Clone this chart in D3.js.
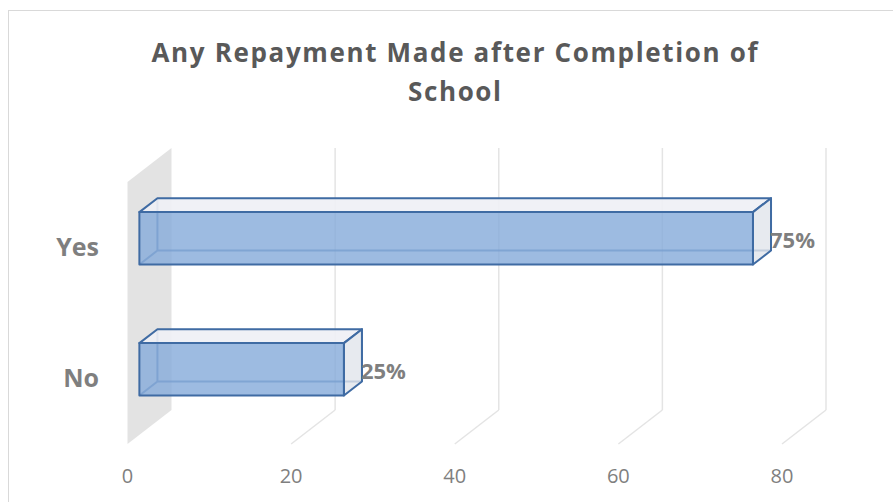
<!DOCTYPE html>
<html>
<head>
<meta charset="UTF-8">
<title>Any Repayment Made after Completion of School</title>
<style>
  body { margin: 0; background: #fff; }
  svg { display: block; font-family: "Open Sans", Lato, sans-serif; }
  .grid line { stroke: #e4e4e4; stroke-width: 1.5px; fill: none; }
  .bar path { stroke: #3f6ba3; stroke-width: 2px; stroke-linejoin: round; }
</style>
</head>
<body>
<svg id="chart"></svg>
<script src="https://d3js.org/d3.v7.min.js"></script>
<script>

var categories = ["Yes", "No"];
var values = [75, 25];
var valueLabels = ["75%", "25%"];
var tickValues = [0, 20, 40, 60, 80];
var titleLines = ["Any Repayment Made after Completion of", "School"];

var width = 893, height = 502;

// front plane of the plot box, and how far the back plane is shifted
var plot = { left: 127.5, right: 782, top: 182, bottom: 444 };
var depth = { dx: 44, dy: -34 };
var barFront = 0.27, barBack = 0.68;

var x = d3.scaleLinear().domain([0, 80]).range([plot.left, plot.right]);
var y = d3.scaleBand().domain(categories).range([plot.top, plot.bottom]).paddingInner(0.6).paddingOuter(0.3);

// project a point (value, plane y, depth 0..1) to the screen
function pt(v, py, d) {
  return [x(v) + d * depth.dx, py + d * depth.dy];
}

var svg = d3.select('#chart')
  .attr('width', width)
  .attr('height', height);

// chart border
svg.append('rect')
  .attr('x', 8.5).attr('y', 10.5)
  .attr('width', 900).attr('height', 520)
  .attr('fill', 'none')
  .attr('stroke', '#d9d9d9');

// title
svg.append('g').selectAll('text')
  .data(titleLines)
  .enter().append('text')
  .attr('x', 454.5)
  .attr('y', function (d, i) { return 62 + i * 39; })
  .attr('text-anchor', 'middle')
  .attr('font-size', '26px')
  .attr('font-weight', 'bold')
  .attr('fill', '#595959')
  .attr('textLength', function (d, i) { return i === 0 ? 606 : 93; })
  .attr('lengthAdjust', 'spacing')
  .text(function (d) { return d; });

// side wall at value 0
var wall = [pt(0, plot.top, 0), pt(0, plot.top, 1), pt(0, plot.bottom, 1), pt(0, plot.bottom, 0)];
svg.append('path')
  .attr('d', 'M' + wall.join('L') + 'Z')
  .attr('fill', '#e3e3e3');

// gridlines: back wall vertical plus floor diagonal
var grid = svg.append('g').attr('class', 'grid');
tickValues.filter(function (t) { return t > 0; }).forEach(function (t) {
  var a = pt(t, plot.top, 1), b = pt(t, plot.bottom, 1), c = pt(t, plot.bottom, 0);
  grid.append('line').attr('x1', a[0]).attr('y1', a[1]).attr('x2', b[0]).attr('y2', b[1]);
  grid.append('line').attr('x1', b[0]).attr('y1', b[1]).attr('x2', c[0]).attr('y2', c[1]);
});

// x tick labels
svg.append('g').selectAll('text')
  .data(tickValues)
  .enter().append('text')
  .attr('x', function (d) { return x(d); })
  .attr('y', 483)
  .attr('text-anchor', 'middle')
  .attr('font-size', '20px')
  .attr('fill', '#7f7f7f')
  .text(function (d) { return d; });

// category labels
svg.append('g').selectAll('text')
  .data(categories)
  .enter().append('text')
  .attr('x', 99)
  .attr('y', function (d) { return y(d) + y.bandwidth() / 2; })
  .attr('dy', '0.35em')
  .attr('text-anchor', 'end')
  .attr('font-size', '25px')
  .attr('font-weight', 'bold')
  .attr('fill', '#7f7f7f')
  .text(function (d) { return d; });

// 3d bars
function poly(p) { return 'M' + p.join('L') + 'Z'; }

categories.forEach(function (c, i) {
  var v = values[i];
  var t = y(c), b = y(c) + y.bandwidth();
  var g = svg.append('g').attr('class', 'bar');

  var fTL = pt(0, t, barFront), fTR = pt(v, t, barFront), fBR = pt(v, b, barFront), fBL = pt(0, b, barFront);
  var bTL = pt(0, t, barBack), bTR = pt(v, t, barBack), bBR = pt(v, b, barBack), bBL = pt(0, b, barBack);

  // hidden back edges, seen through the faces
  g.append('path').attr('d', 'M' + fBL + 'L' + bBL + 'L' + bBR + 'M' + bTL + 'L' + bBL + 'M' + bBR + 'L' + bTR)
    .attr('fill', 'none').attr('stroke-opacity', 0.75);

  g.append('path').attr('d', poly([fTL, fTR, bTR, bTL]))
    .attr('fill', '#eef0f5').attr('fill-opacity', 0.9);
  g.append('path').attr('d', poly([fTR, bTR, bBR, fBR]))
    .attr('fill', '#dfe3ea').attr('fill-opacity', 0.75);
  g.append('path').attr('d', poly([fTL, fTR, fBR, fBL]))
    .attr('fill', '#84aada').attr('fill-opacity', 0.8);

  // value label
  svg.append('text')
    .attr('x', bTR[0] - 1)
    .attr('y', (fTL[1] + fBL[1]) / 2 + 1.5)
    .attr('dy', '0.35em')
    .attr('font-size', '22px')
    .attr('font-weight', 'bold')
    .attr('fill', '#7f7f7f')
    .text(valueLabels[i]);
});

</script>
</body>
</html>
